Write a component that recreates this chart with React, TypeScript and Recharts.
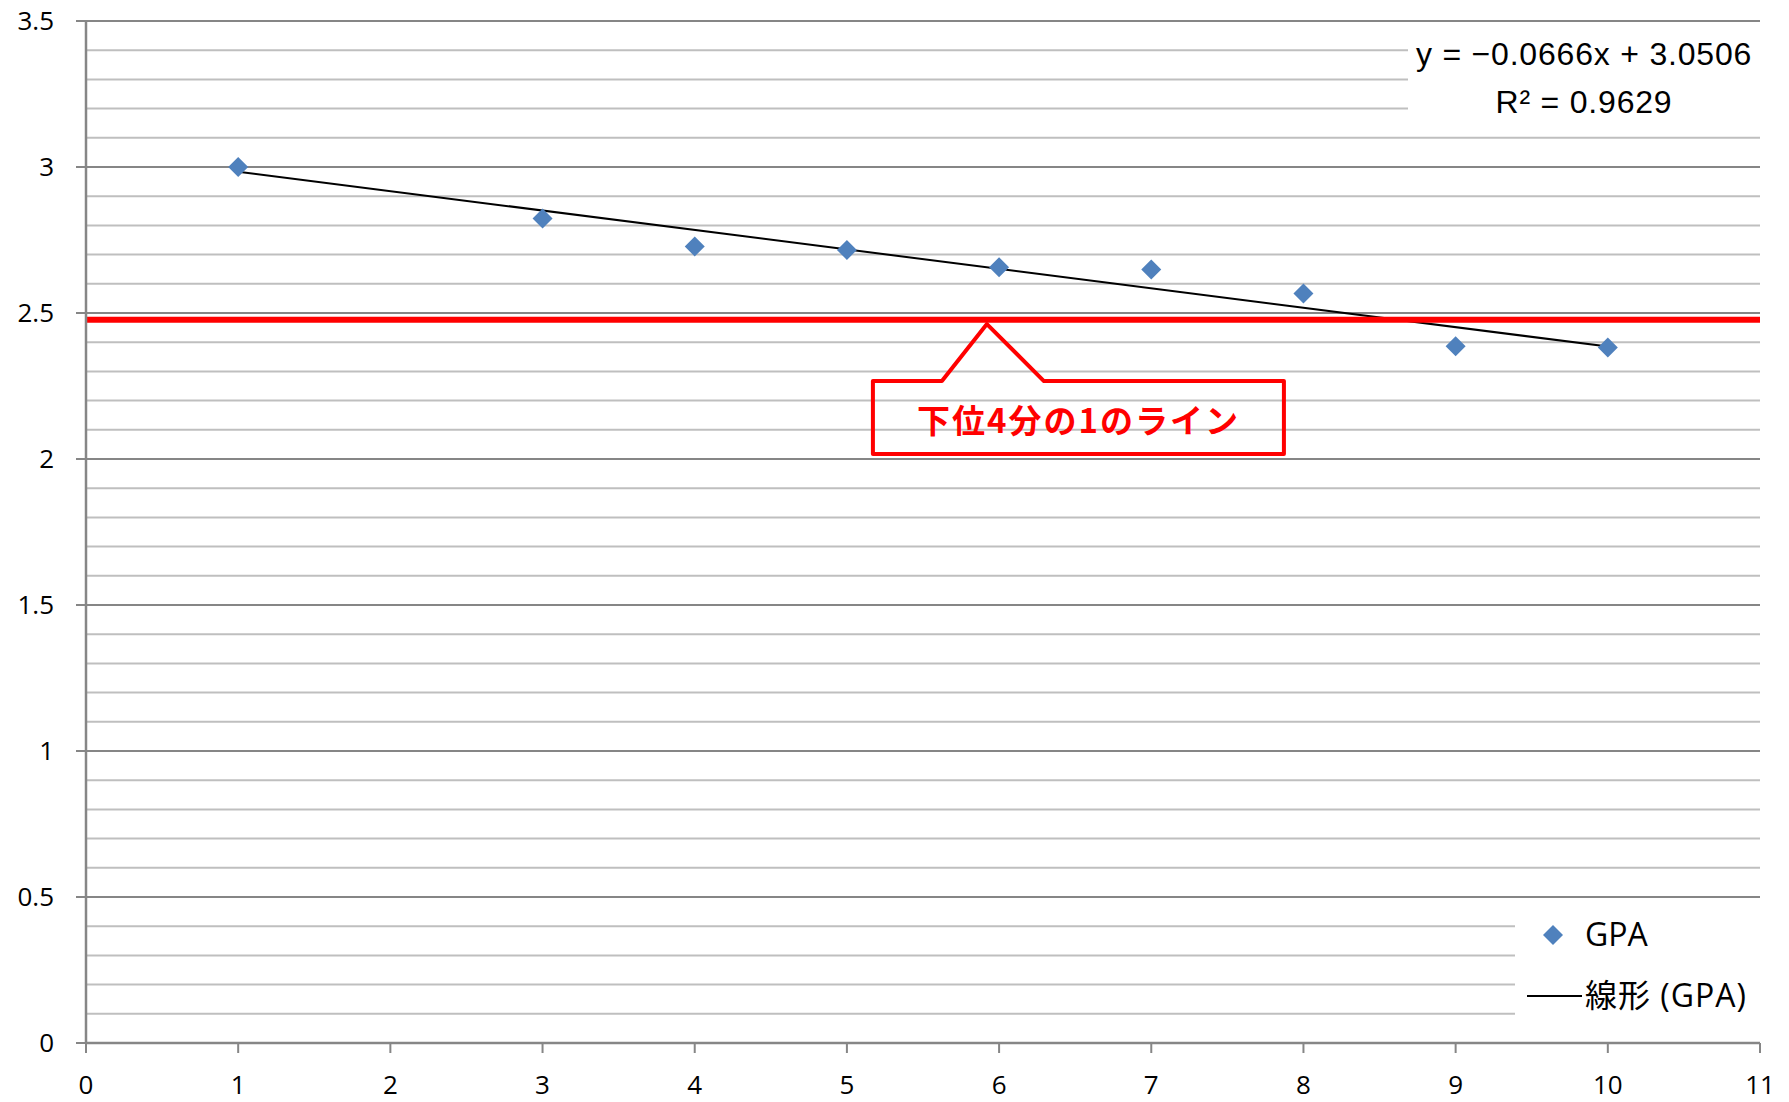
import React from 'react';
import {
  ComposedChart,
  Scatter,
  Line,
  XAxis,
  YAxis,
  CartesianGrid,
  ReferenceLine,
  ReferenceDot,
  Legend,
} from 'recharts';

// ---------------------------------------------------------------------------
// Data
// ---------------------------------------------------------------------------

const xTicks = [0, 1, 2, 3, 4, 5, 6, 7, 8, 9, 10, 11];
const yTicks = [0, 0.5, 1, 1.5, 2, 2.5, 3, 3.5];
const minorGridValues = [
  0.1, 0.2, 0.3, 0.4, 0.6, 0.7, 0.8, 0.9,
  1.1, 1.2, 1.3, 1.4, 1.6, 1.7, 1.8, 1.9,
  2.1, 2.2, 2.3, 2.4, 2.6, 2.7, 2.8, 2.9,
  3.1, 3.2, 3.3, 3.4,
];

const gpaX = [1, 3, 4, 5, 6, 7, 8, 9, 10];
const gpaY = [3.0, 2.824, 2.728, 2.716, 2.657, 2.649, 2.567, 2.386, 2.382];

// linear trendline end points (x = 1 .. 10)
const trendX = [1, 10];
const trendY = [2.984, 2.385];

const quartileValue = 2.477;
const calloutAnchor = { x: 5.92, y: 2.462 };
const calloutText = '下位4分の1のライン';

const equationLines = ['y = −0.0666x + 3.0506', 'R² = 0.9629'];
const legendLabels = ['GPA', '線形 (GPA)'];

const gpaPoints = gpaX.map((x, i) => ({ x, y: gpaY[i] }));
const trendPoints = trendX.map((x, i) => ({ x, y: trendY[i] }));

// ---------------------------------------------------------------------------
// Styles
// ---------------------------------------------------------------------------

const AXIS_GREY = '#868686';
const MINOR_GREY = '#BFBFBF';
const POINT_BLUE = '#4F81BD';
const LATIN_FONT = "'Open Sans', 'Noto Sans CJK JP', sans-serif";

const tickStyle = { fontSize: 26, fill: '#000', fontFamily: LATIN_FONT };

// ---------------------------------------------------------------------------
// Shapes
// ---------------------------------------------------------------------------

function Diamond(props: any) {
  const { cx, cy } = props;
  const r = 10;
  return (
    <polygon
      points={`${cx},${cy - r} ${cx + r},${cy} ${cx},${cy + r} ${cx - r},${cy}`}
      fill={POINT_BLUE}
    />
  );
}

function Callout(props: any) {
  const { cx, cy } = props;
  const top = cy + 57;
  const bottom = cy + 130;
  const left = cx - 114;
  const right = cx + 297;
  const d = [
    `M ${left} ${top}`,
    `L ${cx - 45} ${top}`,
    `L ${cx} ${cy}`,
    `L ${cx + 57} ${top}`,
    `L ${right} ${top}`,
    `L ${right} ${bottom}`,
    `L ${left} ${bottom}`,
    'Z',
  ].join(' ');
  return (
    <g>
      <path d={d} fill="none" stroke="#FF0000" strokeWidth={4} strokeLinejoin="round" />
      <text
        x={(left + right) / 2}
        y={(top + bottom) / 2 + 1}
        textAnchor="middle"
        dominantBaseline="central"
        fill="#FF0000"
        fontWeight="bold"
        fontSize={33}
        letterSpacing={2}
        fontFamily="'Noto Sans CJK JP', sans-serif"
      >
        {calloutText}
      </text>
    </g>
  );
}

function LegendBox() {
  return (
    <div
      style={{
        width: 245,
        height: 130,
        background: '#fff',
        position: 'relative',
        fontFamily: LATIN_FONT,
        fontSize: 32,
        color: '#000',
      }}
    >
      <svg width={70} height={130} style={{ position: 'absolute', left: 0, top: 0 }}>
        <polygon points="38,20 48,30 38,40 28,30" fill={POINT_BLUE} />
        <line x1={12} y1={91} x2={67} y2={91} stroke="#000" strokeWidth={2} />
      </svg>
      <div style={{ position: 'absolute', left: 70, top: 6, lineHeight: '46px', whiteSpace: 'nowrap' }}>
        {legendLabels[0]}
      </div>
      <div
        style={{
          position: 'absolute',
          left: 70,
          top: 67,
          lineHeight: '46px',
          whiteSpace: 'nowrap',
          letterSpacing: 1,
        }}
      >
        {legendLabels[1]}
      </div>
    </div>
  );
}

// ---------------------------------------------------------------------------
// Component
// ---------------------------------------------------------------------------

export default function App() {
  return (
    <div
      style={{
        position: 'absolute',
        left: 0,
        top: 0,
        width: 1789,
        height: 1102,
        background: '#fff',
        fontFamily: LATIN_FONT,
      }}
    >
      <ComposedChart
        width={1789}
        height={1102}
        margin={{ top: 21, right: 29, bottom: 0, left: 0 }}
      >
        <CartesianGrid vertical={false} stroke={AXIS_GREY} strokeWidth={2} />
        {minorGridValues.map((v) => (
          <ReferenceLine key={v} y={v} stroke={MINOR_GREY} strokeWidth={2} />
        ))}

        <XAxis
          type="number"
          dataKey="x"
          domain={[0, 11]}
          ticks={xTicks}
          interval={0}
          height={59}
          allowDataOverflow
          axisLine={{ stroke: AXIS_GREY, strokeWidth: 2.5 }}
          tickLine={{ stroke: AXIS_GREY, strokeWidth: 2 }}
          tickSize={10}
          tickMargin={23}
          tick={tickStyle}
        />
        <YAxis
          type="number"
          domain={[0, 3.5]}
          ticks={yTicks}
          interval={0}
          width={86}
          allowDataOverflow
          axisLine={{ stroke: AXIS_GREY, strokeWidth: 2.5 }}
          tickLine={{ stroke: AXIS_GREY, strokeWidth: 2 }}
          tickSize={10}
          tickMargin={22}
          tick={tickStyle}
        />

        <Line
          data={trendPoints}
          dataKey="y"
          type="linear"
          stroke="#000"
          strokeWidth={2}
          dot={false}
          activeDot={false}
          isAnimationActive={false}
          legendType="none"
        />

        <ReferenceLine y={quartileValue} stroke="#FF0000" strokeWidth={6} />

        <Scatter
          data={gpaPoints}
          dataKey="y"
          shape={Diamond}
          isAnimationActive={false}
        />

        <ReferenceDot
          x={calloutAnchor.x}
          y={calloutAnchor.y}
          r={0}
          shape={Callout}
        />

        <Legend
          layout="horizontal"
          align="center"
          verticalAlign="middle"
          content={() => <LegendBox />}
          wrapperStyle={{ left: 1515, top: 905, width: 245, height: 130, bottom: 'auto', right: 'auto' }}
        />
      </ComposedChart>

      <div
        style={{
          position: 'absolute',
          left: 1408,
          top: 30,
          width: 352,
          height: 97,
          background: '#fff',
          fontFamily: "'Liberation Sans', Arial, sans-serif",
          fontSize: 32,
          letterSpacing: 0.8,
          lineHeight: '48px',
          textAlign: 'center',
          color: '#000',
        }}
      >
        {equationLines.map((t) => (
          <div key={t} style={{ whiteSpace: 'nowrap' }}>{t}</div>
        ))}
      </div>
    </div>
  );
}
